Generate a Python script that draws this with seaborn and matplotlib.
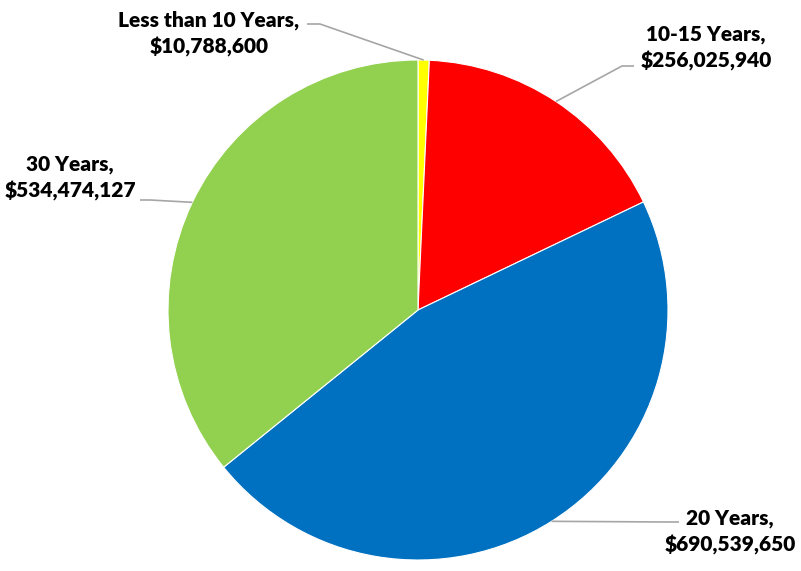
import numpy as np
import matplotlib
matplotlib.use("Agg")
import matplotlib.pyplot as plt
import seaborn as sns

# data
categories = ["Less than 10 Years", "10-15 Years", "20 Years", "30 Years"]
amounts = [10788600, 256025940, 690539650, 534474127]
colors = ["#FFFF00", "#FF0000", "#0070C0", "#92D050"]

# layout in pixels (x from left, y from top), same order as categories
W, H = 801, 571
center_px = (418, 310)
radius_px = 250
label_pos = [(209, 34), (706, 48), (730, 532), (70, 178)]
leader_start = [(307, 24), (634, 66), (679, 522), (140, 200)]
leader_elbow = [(320, 24), (622, 66), (668, 522), (150, 200)]

sns.set_theme(style="white")
plt.rcParams["font.family"] = ["Lato", "DejaVu Sans"]

fig = plt.figure(figsize=(W / 100, H / 100), dpi=100)
ax = fig.add_axes([0, 0, 1, 1])

cx, cy = center_px[0], H - center_px[1]
wedges, _ = ax.pie(amounts, colors=colors, startangle=90, counterclock=False,
                   center=(cx, cy), radius=radius_px,
                   wedgeprops=dict(edgecolor="white", linewidth=0.8))
# pie() resets the limits, so set them afterwards
ax.set_xlim(0, W)
ax.set_ylim(0, H)
ax.set_aspect("equal")
ax.axis("off")

for w, cat, amt, pos, s, e in zip(wedges, categories, amounts, label_pos,
                                  leader_start, leader_elbow):
    mid = np.deg2rad((w.theta1 + w.theta2) / 2)
    rx = cx + radius_px * np.cos(mid)
    ry = cy + radius_px * np.sin(mid)
    ax.plot([s[0], e[0], rx], [H - s[1], H - e[1], ry],
            color="#A6A6A6", lw=1.2, solid_capstyle="butt")
    ax.text(pos[0], H - pos[1], f"{cat},\n${amt:,}", ha="center", va="center",
            fontsize=15, fontweight="heavy", color="black", linespacing=1.45)

fig.savefig("out.png", dpi=100)
